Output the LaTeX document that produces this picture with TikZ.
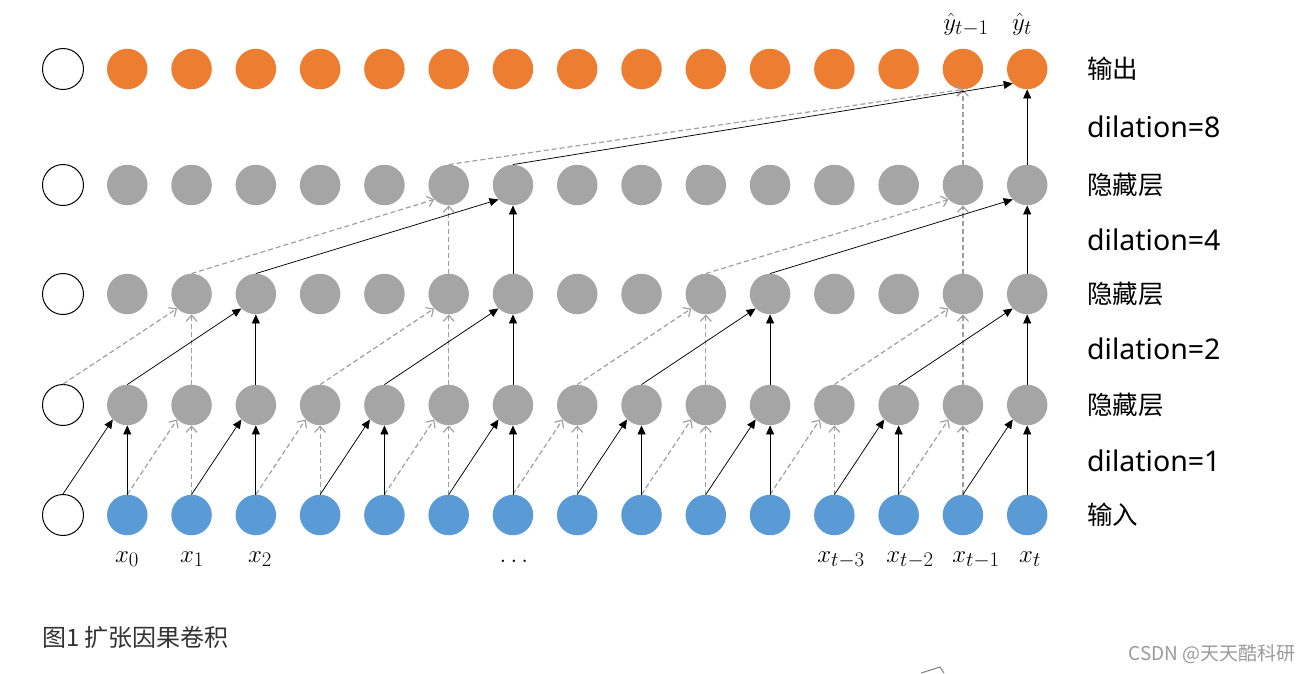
\documentclass[tikz,border=0pt]{standalone}
\usepackage{fontspec}
\newfontfamily\cjk{Noto Sans CJK SC}
\newfontfamily\lat{Noto Sans}
\usetikzlibrary{arrows.meta}
\definecolor{outc}{HTML}{ED7D31}
\definecolor{hidc}{HTML}{A5A5A5}
\definecolor{inc}{HTML}{5B9BD5}
\definecolor{dashc}{HTML}{A0A0A0}
\definecolor{capc}{HTML}{333333}
\definecolor{wmc}{HTML}{9A9A9A}
\begin{document}
\begin{tikzpicture}[x=1pt,y=-1pt,
  dot/.style={circle,minimum size=40.5pt,inner sep=0pt},
  outn/.style={dot,fill=outc},
  hidn/.style={dot,fill=hidc},
  inn/.style={dot,fill=inc},
  pad/.style={dot,draw=black,line width=1pt,fill=white,minimum size=41pt},
  sol/.style={black,line width=0.75pt,-{Triangle[length=9pt,width=8pt]}},
  dsh/.style={dashc,line width=1.2pt,dash pattern=on 5pt off 3pt,-{Straight Barb[length=6pt,width=11pt,line width=1.2pt]}},
  lab/.style={anchor=west,inner sep=0pt},
  mlab/.style={anchor=base,inner sep=0pt,font=\fontsize{30}{30}\selectfont},
  cjklab/.style={lab,font=\cjk\fontsize{25.5}{25.5}\selectfont},
  dillab/.style={lab,font=\lat\fontsize{28.5}{28.5}\selectfont},
]
\useasboundingbox (0,0) rectangle (1311,673);
\foreach \r/\y in {out/69,hc/185,hb/294,ha/405,in/515}{
  \node[pad] (\r0) at (63,\y) {};
}
\foreach \i in {1,...,15}{
  \pgfmathsetmacro\xx{63+64.28*\i}
  \node[outn] (out\i) at (\xx,69) {};
  \node[hidn] (hc\i) at (\xx,185) {};
  \node[hidn] (hb\i) at (\xx,294) {};
  \node[hidn] (ha\i) at (\xx,405) {};
  \node[inn] (in\i) at (\xx,515) {};
}
% dilation 1
\foreach \j in {2,4,...,14}{
  \pgfmathtruncatemacro\p{\j-1}
  \draw[dsh] (in\p.north) -- (ha\j.south west);
  \draw[dsh] (in\j.north) -- (ha\j.south);
}
\foreach \j in {1,3,...,15}{
  \pgfmathtruncatemacro\p{\j-1}
  \draw[sol] (in\p.north) -- (ha\j.south west);
  \draw[sol] (in\j.north) -- (ha\j.south);
}
% dilation 2
\foreach \j in {2,6,10,14}{
  \pgfmathtruncatemacro\p{\j-2}
  \draw[dsh] (ha\p.north) -- (hb\j.south west);
  \draw[dsh] (ha\j.north) -- (hb\j.south);
}
\foreach \j in {3,7,11,15}{
  \pgfmathtruncatemacro\p{\j-2}
  \draw[sol] (ha\p.north) -- (hb\j.south west);
  \draw[sol] (ha\j.north) -- (hb\j.south);
}
% dilation 4
\foreach \j in {6,14}{
  \pgfmathtruncatemacro\p{\j-4}
  \draw[dsh] (hb\p.north) -- (hc\j.south west);
  \draw[dsh] (hb\j.north) -- (hc\j.south);
}
\foreach \j in {7,15}{
  \pgfmathtruncatemacro\p{\j-4}
  \draw[sol] (hb\p.north) -- (hc\j.south west);
  \draw[sol] (hb\j.north) -- (hc\j.south);
}
% dilation 8
\draw[dsh] (hc6.north) -- (out14.south);
\draw[dsh] (hc14.north) -- (out14.south);
\draw[sol] (hc7.north) -- (out15.south west);
\draw[sol] (hc15.north) -- (out15.south);

% math labels
\node[mlab] (lx0) at (127,562) {$x_0$};
\node[mlab] (lx1) at (192,562) {$x_1$};
\node[mlab] (lx2) at (260,562) {$x_2$};
\node[mlab] (ldots) at (514,562) {$\ldots$};
\node[mlab] (lx3) at (841,562) {$x_{t-3}$};
\node[mlab] (lx4) at (910,562) {$x_{t-2}$};
\node[mlab] (lx5) at (976,562) {$x_{t-1}$};
\node[mlab] (lx6) at (1030,562) {$x_t$};
\node[mlab] (ly1) at (966,30) {$\hat{y}_{t-1}$};
\node[mlab] (ly2) at (1022,30) {$\hat{y}_t$};

% right labels
\node[cjklab] (r1) at (1087,69) {输出};
\node[dillab] (r2) at (1087,127) {dilation=8};
\node[cjklab] (r3) at (1087,185) {隐藏层};
\node[dillab] (r4) at (1087,240) {dilation=4};
\node[cjklab] (r5) at (1087,294) {隐藏层};
\node[dillab] (r6) at (1087,349) {dilation=2};
\node[cjklab] (r7) at (1087,405) {隐藏层};
\node[dillab] (r8) at (1087,461) {dilation=1};
\node[cjklab] (r9) at (1087,515) {输入};

% caption and watermark
\node[lab,text=capc,font=\cjk\fontsize{24}{24}\selectfont] (cap) at (42,637) {图1 扩张因果卷积};
\node[anchor=east,inner sep=0pt,text=wmc,font=\cjk\fontsize{19}{19}\selectfont] (wm) at (1296,654) {CSDN @天天酷科研};
\draw[gray,line width=1pt] (921,673) -- (940,667) -- (944,673);
\end{tikzpicture}
\end{document}
